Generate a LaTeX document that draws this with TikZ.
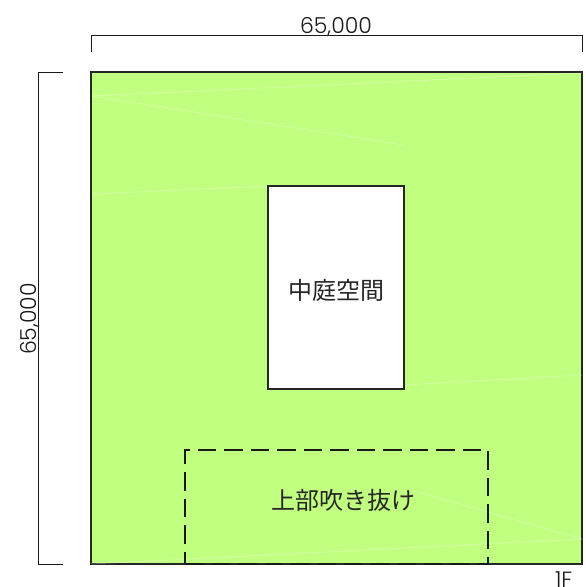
\documentclass[tikz,border=0pt]{standalone}
\usepackage{fontspec}
\setmainfont{Poppins Light}
\newfontfamily\cjkfont{Noto Sans CJK JP}
\usetikzlibrary{positioning}
\definecolor{floorgreen}{HTML}{C1FF80}

\begin{document}
\begin{tikzpicture} [x=1pt, y=-1pt]
    \tikzstyle{every node} = [align=center, inner sep=0pt, outer sep=0pt]
    \tikzstyle{floor} = [draw=black!85, line width=1.3pt, fill=floorgreen, minimum width=491pt, minimum height=492pt]
    \tikzstyle{court} = [draw=black!85, line width=1.2pt, fill=white, minimum width=136pt, minimum height=203pt]
    \tikzstyle{void} = [draw=black!90, line width=1.1pt, dash pattern=on 18.5pt off 8pt, minimum width=303pt, minimum height=114pt]
    \tikzstyle{dim} = [draw=black!90, line width=0.9pt]
    \tikzstyle{seam} = [draw=white, line width=0.5pt, opacity=0.45]
    \tikzstyle{room} = [font=\cjkfont\fontsize{24}{24}\selectfont, text=black!85]
    \tikzstyle{size} = [font=\fontsize{22}{22}\selectfont, text=black!90]
    \useasboundingbox (0,0) rectangle (586,587);
    \node [floor] (plan) at (336.5,318) {};
    % faint lines in the fill
    \draw [seam] (92,96) -- (582,73);
    \draw [seam] (92,96) -- (404,145);
    \draw [seam] (92,194) -- (268,186);
    \draw [seam] (404,385) -- (582,375);
    \draw [seam] (91,564) -- (582,539);
    \draw [seam] (418,492) -- (582,539);
    \node [court] (yard) at (336,287.5) {};
    \node [room] (yardname) at (336,290) {中庭空間};
    \node [void] (upper) at (336.5,507) {};
    \node [room] (uppername) at (343.5,500) {上部吹き抜け};
    % top dimension
    \coordinate (topl) at (91,35.5);
    \coordinate (topr) at (582,35.5);
    \coordinate (toplt) at (91,52);
    \coordinate (toprt) at (582,52);
    \draw [dim] (toplt) -- (topl) -- (topr) -- (toprt);
    \node [size, anchor=base] (topsize) at (336,33.5) {65,000};
    % left dimension
    \coordinate (leftt) at (38.5,72);
    \coordinate (leftb) at (38.5,564);
    \coordinate (lefttt) at (63,72);
    \coordinate (leftbt) at (63,564);
    \draw [dim] (lefttt) -- (leftt) -- (leftb) -- (leftbt);
    \node [size, anchor=base, rotate=90] (leftsize) at (36.5,319) {65,000};
    \node [size, anchor=base west] (floorname) at (555,587) {1F};
\end{tikzpicture}
\end{document}
